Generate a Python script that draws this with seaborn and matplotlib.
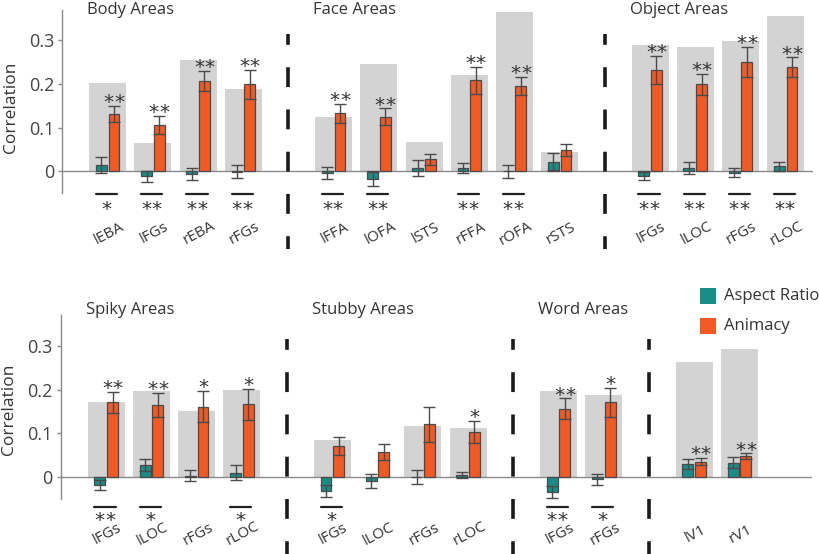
import numpy as np
import pandas as pd
import matplotlib
matplotlib.use("Agg")
import matplotlib.pyplot as plt
import seaborn as sns
from matplotlib.patches import Rectangle

# ---- data ----
top_groups = ["Body Areas", "Face Areas", "Object Areas"]
top_group_sizes = [4, 6, 4]
top_regions = ["lEBA", "lFGs", "rEBA", "rFGs",
               "lFFA", "lOFA", "lSTS", "rFFA", "rOFA", "rSTS",
               "lFGs", "lLOC", "rFGs", "rLOC"]
top_ceiling = [0.203, 0.064, 0.256, 0.188,
               0.125, 0.245, 0.067, 0.220, 0.366, 0.044,
               0.290, 0.284, 0.298, 0.356]
top_aspect = [0.014, -0.012, -0.006, -0.001,
              -0.004, -0.018, 0.008, 0.008, 0.0, 0.022,
              -0.010, 0.008, -0.003, 0.011]
top_aspect_err = [0.019, 0.012, 0.013, 0.015,
                  0.013, 0.016, 0.018, 0.012, 0.015, 0.020,
                  0.009, 0.014, 0.010, 0.010]
top_animacy = [0.131, 0.106, 0.207, 0.199,
               0.133, 0.125, 0.027, 0.209, 0.196, 0.048,
               0.233, 0.199, 0.251, 0.239]
top_animacy_err = [0.018, 0.020, 0.023, 0.034,
                   0.022, 0.019, 0.013, 0.031, 0.020, 0.014,
                   0.032, 0.025, 0.034, 0.022]
top_sig_above = ["**", "**", "**", "**", "**", "**", "", "**", "**", "", "**", "**", "**", "**"]
top_sig_below = ["*", "**", "**", "**", "**", "**", "", "**", "**", "", "**", "**", "**", "**"]

bot_groups = ["Spiky Areas", "Stubby Areas", "Word Areas", ""]
bot_group_sizes = [4, 4, 2, 2]
bot_regions = ["lFGs", "lLOC", "rFGs", "rLOC",
               "lFGs", "lLOC", "rFGs", "rLOC",
               "lFGs", "rFGs", "lV1", "rV1"]
bot_ceiling = [0.171, 0.197, 0.152, 0.200,
               0.084, 0.0, 0.116, 0.113,
               0.196, 0.187, 0.264, 0.292]
bot_aspect = [-0.018, 0.027, 0.003, 0.010,
              -0.031, -0.009, 0.0, 0.005,
              -0.034, -0.005, 0.030, 0.033]
bot_aspect_err = [0.012, 0.014, 0.013, 0.017,
                  0.014, 0.017, 0.016, 0.006,
                  0.014, 0.013, 0.012, 0.013]
bot_animacy = [0.171, 0.165, 0.161, 0.166,
               0.071, 0.058, 0.121, 0.103,
               0.156, 0.171, 0.035, 0.048]
bot_animacy_err = [0.024, 0.027, 0.036, 0.036,
                   0.021, 0.018, 0.040, 0.025,
                   0.024, 0.033, 0.008, 0.006]
bot_sig_above = ["**", "**", "*", "*", "", "", "", "*", "**", "*", "**", "**"]
bot_sig_below = ["**", "*", "", "*", "*", "", "", "", "**", "*", "", ""]

yticks = [0, 0.1, 0.2, 0.3]
ytick_labels = ["0", "0.1", "0.2", "0.3"]

TEAL = "#1a8c87"
ORANGE = "#f15a24"
GRAY = "#d3d3d3"
EDGE = "#4a4a4a"

sns.set_style("white")
plt.rcParams["font.family"] = ["Open Sans", "DejaVu Sans"]


def slot_positions(sizes):
    pos, seps, starts = [], [], []
    cur = 0
    for i, n in enumerate(sizes):
        starts.append(cur)
        pos.extend(range(cur, cur + n))
        cur += n
        if i < len(sizes) - 1:
            seps.append(cur)
            cur += 1
    return pos, seps, starts


def stars(ax, x, y, s):
    # one text per asterisk so the spacing matches the original
    n = len(s)
    for i in range(n):
        ax.text(x + (i - (n - 1) / 2) * 0.235, y, "*", ha="center",
                va="baseline", fontsize=14.5, color="#333333",
                family="DejaVu Sans", clip_on=False)


def draw_panel(ax, groups, sizes, regions, ceiling, aspect, aspect_err,
               animacy, animacy_err, sig_above, sig_below,
               line_y, star_drop, label_y, title_y, label_ycoord):
    pos, seps, starts = slot_positions(sizes)

    sns.barplot(x=pos, y=ceiling, native_scale=True, color=GRAY,
                saturation=1, width=0.82, errorbar=None, linewidth=0,
                ax=ax, zorder=1)
    ax.axhline(0, color="#8a8a8a", lw=1, zorder=1.5)

    df = pd.DataFrame({
        "pos": pos * 2,
        "val": list(aspect) + list(animacy),
        "measure": ["Aspect Ratio"] * len(pos) + ["Animacy"] * len(pos),
    })
    sns.barplot(data=df, x="pos", y="val", hue="measure",
                hue_order=["Aspect Ratio", "Animacy"],
                palette=[TEAL, ORANGE], native_scale=True, saturation=1,
                width=0.56, gap=0.14, errorbar=None, edgecolor=EDGE,
                linewidth=0.9, legend=False, ax=ax, zorder=2)

    p = np.array(pos, dtype=float)
    ax.errorbar(p - 0.14, aspect, yerr=aspect_err, fmt="none", ecolor=EDGE,
                elinewidth=1, capsize=4, capthick=1, zorder=3)
    ax.errorbar(p + 0.14, animacy, yerr=animacy_err, fmt="none", ecolor=EDGE,
                elinewidth=1, capsize=4, capthick=1, zorder=3)

    for x, v, e, s in zip(p, animacy, animacy_err, sig_above):
        if s:
            stars(ax, x + 0.14, v + e - 0.005, s)
    for x, s in zip(p, sig_below):
        if s:
            ax.plot([x - 0.26, x + 0.21], [line_y, line_y], color="#222222",
                    lw=1.6, clip_on=False)
            stars(ax, x - 0.03, line_y - star_drop, s)
    for x, r in zip(p, regions):
        ax.text(x + 0.03, label_y, r, ha="center", va="center", rotation=28,
                rotation_mode="anchor", fontsize=11, color="#333333",
                clip_on=False)
    for s in seps:
        ax.plot([s, s], [0.316, -0.178], color="#1a1a1a", lw=2.6,
                linestyle=(2.5, (5.5, 6.2)), clip_on=False,
                solid_capstyle="butt", dash_capstyle="butt")
    for g, st in zip(groups, starts):
        if g:
            ax.text(st - 0.45, title_y, g, ha="left", va="center",
                    fontsize=12, color="#333333", clip_on=False)

    ax.set_xlim(-1, 15.6)
    ax.set_ylim(-0.05, 0.37)
    ax.set_xticks([])
    ax.set_yticks(yticks)
    ax.set_yticklabels(ytick_labels)
    ax.tick_params(axis="y", length=3, width=1, color="#8a8a8a",
                   labelsize=13, labelcolor="#444444", pad=3, left=True)
    for side in ["top", "right", "bottom"]:
        ax.spines[side].set_visible(False)
    ax.spines["left"].set_color("#8a8a8a")
    ax.spines["left"].set_linewidth(1)
    ax.set_xlabel("")
    ax.set_ylabel("Correlation", fontsize=12.5, color="#333333")
    ax.yaxis.set_label_coords(-0.058, label_ycoord)


fig = plt.figure(figsize=(8.2, 5.54), dpi=100)
ax_top = fig.add_axes([0.0762, 0.6516, 0.915, 0.3304])
ax_bot = fig.add_axes([0.0744, 0.0993, 0.9156, 0.3318])

draw_panel(ax_top, top_groups, top_group_sizes, top_regions, top_ceiling,
           top_aspect, top_aspect_err, top_animacy, top_animacy_err,
           top_sig_above, top_sig_below,
           line_y=-0.053, star_drop=0.048, label_y=-0.142, title_y=0.371,
           label_ycoord=0.47)
draw_panel(ax_bot, bot_groups, bot_group_sizes, bot_regions, bot_ceiling,
           bot_aspect, bot_aspect_err, bot_animacy, bot_animacy_err,
           bot_sig_above, bot_sig_below,
           line_y=-0.068, star_drop=0.044, label_y=-0.130, title_y=0.381,
           label_ycoord=0.49)

# legend
for i, (lab, col) in enumerate([("Aspect Ratio", TEAL), ("Animacy", ORANGE)]):
    yc = 296 + i * 30
    fig.add_artist(Rectangle((700 / 820, 1 - (yc + 8) / 554), 16 / 820, 16 / 554,
                             transform=fig.transFigure, facecolor=col,
                             edgecolor="none"))
    fig.text(724 / 820, 1 - yc / 554, lab, ha="left", va="center",
             fontsize=12, color="#333333")

fig.savefig("out.png", dpi=100)
